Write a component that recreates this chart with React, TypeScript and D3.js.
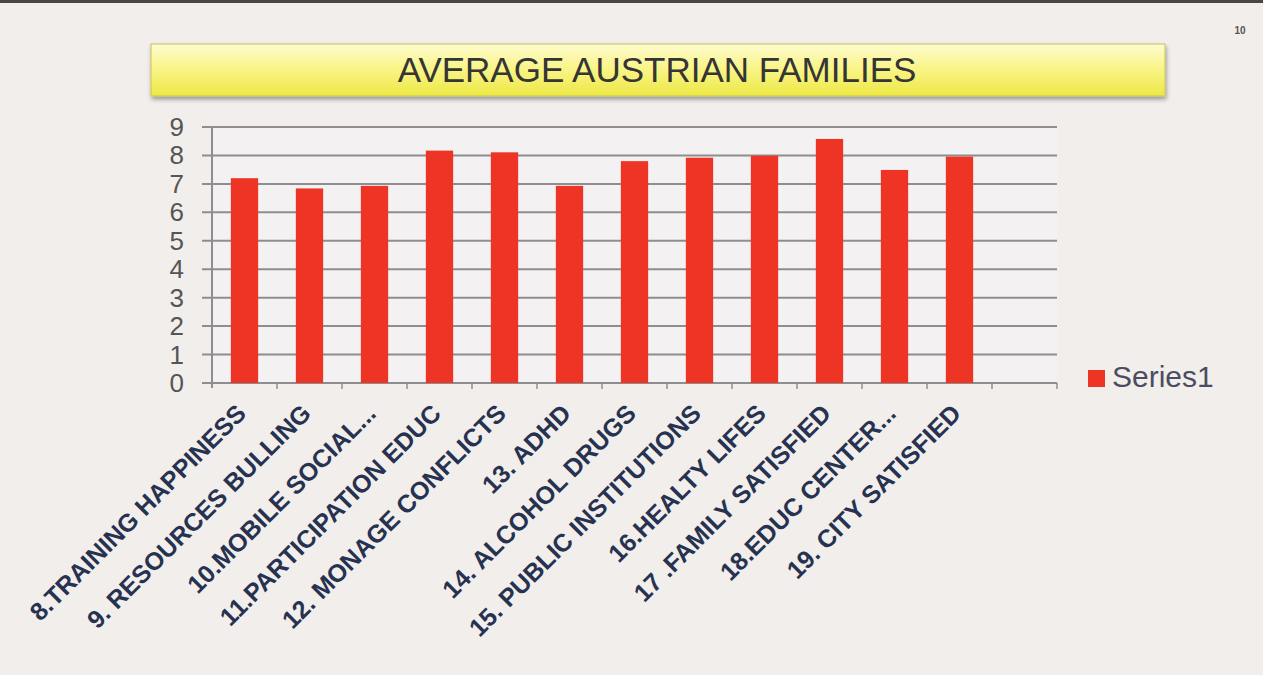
import React from "react";
import * as d3 from "d3";

const categories = [
  "8.TRAINING HAPPINESS",
  "9. RESOURCES BULLING",
  "10.MOBILE SOCIAL...",
  "11.PARTICIPATION EDUC",
  "12. MONAGE CONFLICTS",
  "13. ADHD",
  "14. ALCOHOL DRUGS",
  "15. PUBLIC INSTITUTIONS",
  "16.HEALTY LIFES",
  "17 .FAMILY SATISFIED",
  "18.EDUC  CENTER...",
  "19. CITY SATISFIED",
  "",
];
const series1 = [7.2, 6.84, 6.93, 8.17, 8.11, 6.93, 7.8, 7.92, 7.99, 8.58, 7.49, 7.96];
const yTicks = [0, 1, 2, 3, 4, 5, 6, 7, 8, 9];
const title = "AVERAGE AUSTRIAN FAMILIES";
const seriesName = "Series1";

export default function App() {
  const W = 1263, H = 675;
  const x = d3.scaleBand<string>().domain(categories.map((c, i) => String(i))).range([212, 1057]).paddingInner(0).paddingOuter(0);
  const y = d3.scaleLinear().domain([0, 9]).range([383, 127]);
  const bw = x.bandwidth() * 0.42;
  return (
    <div style={{ position: "fixed", left: 0, top: 0 }}>
      <svg width={W} height={H} style={{ display: "block" }}>
        <defs>
          <linearGradient id="ttl" x1="0" y1="0" x2="0" y2="1">
            <stop offset="0" stopColor="#fdfbd0" />
            <stop offset="0.45" stopColor="#faf58a" />
            <stop offset="1" stopColor="#ece845" />
          </linearGradient>
          <filter id="sh" x="-5%" y="-20%" width="110%" height="150%">
            <feDropShadow dx="1" dy="3" stdDeviation="2" floodColor="#000" floodOpacity="0.35" />
          </filter>
        </defs>
        <rect x={0} y={0} width={W} height={H} fill="#f1eeec" />
        <rect x={0} y={0} width={W} height={3} fill="#4a4646" />
        <text x={1240} y={34} fontFamily="Arial, Liberation Sans, sans-serif" fontSize={10} fontWeight="bold" fill="#555" textAnchor="middle">10</text>
        <rect x={151} y={44} width={1014} height={52} fill="url(#ttl)" stroke="#c9c35a" strokeWidth={1} filter="url(#sh)" />
        <text x={657} y={82} fontFamily="Arial, Liberation Sans, sans-serif" fontSize={35} fill="#353535" textAnchor="middle">{title}</text>
        <rect x={212} y={127} width={845} height={256} fill="#f3f1f1" />
        {yTicks.map(t => (
          <g key={t}>
            <line x1={202} x2={1057} y1={y(t)} y2={y(t)} stroke="#8e8e90" strokeWidth={2} />
            <text x={184} y={y(t) + 9} fontFamily="Arial, Liberation Sans, sans-serif" fontSize={26} fill="#555" textAnchor="end">{t}</text>
          </g>
        ))}
        <line x1={212} x2={212} y1={127} y2={388} stroke="#8e8e90" strokeWidth={2} />
        {categories.map((c, i) => (
          <line key={"t" + i} x1={(x(String(i)) as number) + x.bandwidth()} x2={(x(String(i)) as number) + x.bandwidth()} y1={383} y2={389} stroke="#8e8e90" strokeWidth={1.5} />
        ))}
        {series1.map((v, i) => (
          <rect key={i} x={(x(String(i)) as number) + (x.bandwidth() - bw) / 2} y={y(v)} width={bw} height={y(0) - y(v)} fill="#ee3424" />
        ))}
        {categories.map((c, i) => {
          const cx = (x(String(i)) as number) + x.bandwidth() / 2 + 3;
          return (
            <text key={"l" + i} transform={`translate(${cx},${415}) rotate(-45)`} fontFamily="Arial, Liberation Sans, sans-serif" fontSize={25} fontWeight="bold" fill="#263250" textAnchor="end">{c}</text>
          );
        })}
        <rect x={1088} y={370} width={17} height={17} fill="#ee3424" />
        <text x={1112} y={387} fontFamily="Arial, Liberation Sans, sans-serif" fontSize={30} fill="#4b4d5e">{seriesName}</text>
      </svg>
    </div>
  );
}
